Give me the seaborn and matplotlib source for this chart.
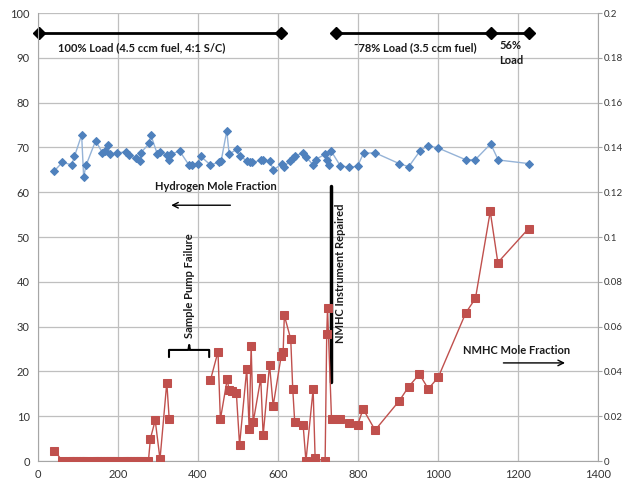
import numpy as np
import pandas as pd
import seaborn as sns
import matplotlib.pyplot as plt

# Hydrogen mole fraction (left axis, %)
h2_x = [41, 61, 84, 91, 109, 114, 120, 144, 161, 167,
        175, 179, 198, 221, 227, 246, 254, 257, 278, 282,
        298, 306, 323, 328, 333, 354, 378, 384, 401, 407,
        431, 453, 458, 472, 478, 497, 505, 522, 529, 536,
        558, 563, 580, 588, 609, 615, 631, 637, 643, 663,
        670, 688, 694, 718, 723, 727, 733, 756, 778, 799,
        814, 843, 903, 927, 956, 975, 1000, 1071, 1094, 1132,
        1151, 1227]
h2_y = [64.8, 66.7, 66.1, 68.0, 72.8, 63.4, 66.0, 71.5, 68.8, 69.3,
        70.6, 68.5, 68.8, 69.0, 68.2, 67.6, 67.0, 68.8, 70.9, 72.8,
        68.6, 69.0, 68.2, 67.2, 68.5, 69.2, 66.0, 66.0, 66.4, 68.0,
        66.1, 66.7, 67.0, 73.7, 68.5, 69.6, 68.1, 67.0, 66.7, 66.7,
        67.1, 67.1, 67.0, 65.0, 66.2, 65.7, 67.0, 67.7, 68.1, 68.8,
        67.9, 66.1, 67.3, 68.5, 67.3, 66.1, 69.2, 65.9, 65.6, 65.8,
        68.7, 68.8, 66.4, 65.7, 69.3, 70.4, 69.9, 67.2, 67.3, 70.8,
        67.2, 66.4]

# NMHC mole fraction (right axis), before and after the sample pump failure
nmhc_x1 = [41, 61, 80, 88, 96, 104, 112, 120, 140, 148,
           156, 164, 172, 180, 188, 196, 215, 223, 231, 239,
           247, 255, 262, 276, 281, 293, 305, 322, 328]
nmhc_y1 = [0.0046, 0, 0, 0, 0, 0, 0, 0, 0, 0,
           0, 0, 0, 0, 0, 0, 0, 0, 0, 0,
           0, 0, 0, 0, 0.0100, 0.0182, 0.0008, 0.0350, 0.0188]
nmhc_x2 = [431, 450, 456, 473, 478, 486, 496, 504, 522, 528,
           533, 538, 557, 563, 579, 588, 608, 613, 616, 632,
           637, 642, 663, 670, 688, 693, 718, 722, 724, 734,
           756, 777, 799, 813, 843, 904, 927, 954, 976, 1001,
           1070, 1094, 1131, 1150, 1227]
nmhc_y2 = [0.0360, 0.0488, 0.0186, 0.0364, 0.0316, 0.0314, 0.0302, 0.0072, 0.0412, 0.0142,
           0.0514, 0.0172, 0.0370, 0.0114, 0.0430, 0.0246, 0.0468, 0.0486, 0.0650, 0.0544,
           0.0322, 0.0172, 0.0160, 0.0000, 0.0320, 0.0012, 0.0000, 0.0566, 0.0682, 0.0188,
           0.0188, 0.0168, 0.0160, 0.0232, 0.0138, 0.0270, 0.0332, 0.0388, 0.0322, 0.0374,
           0.0662, 0.0726, 0.1114, 0.0886, 0.1038]

# load periods (x) drawn at the top
load1_x = [3, 607]
load2_x = [745, 1132, 1228]
load_level = 95.5

right_labels = ['0', '0.02', '0.04', '0.06', '0.08', '0.1',
                '0.12', '0.14', '0.16', '0.18', '0.2']

h2_df = pd.DataFrame({'t': h2_x, 'frac': h2_y})
nmhc_df = pd.concat([
    pd.DataFrame({'t': nmhc_x1, 'frac': nmhc_y1, 'seg': 0}),
    pd.DataFrame({'t': nmhc_x2, 'frac': nmhc_y2, 'seg': 1}),
])

sns.set_style("white")
plt.rcParams['font.family'] = ['Lato', 'DejaVu Sans']

fig, ax = plt.subplots(figsize=(6.24, 4.83), dpi=100)
fig.subplots_adjust(left=0.061, right=0.958, bottom=0.0455, top=0.973)
ax2 = ax.twinx()

sns.lineplot(data=h2_df, x='t', y='frac', sort=False, color='#95B3D7', lw=1.0,
             marker='D', markersize=4.5, markerfacecolor='#4F81BD',
             markeredgecolor='#4F81BD', ax=ax)
sns.lineplot(data=nmhc_df, x='t', y='frac', units='seg', estimator=None, sort=False,
             color='#C0504D', lw=1.0, marker='s', markersize=5.5,
             markerfacecolor='#C0504D', markeredgecolor='#C0504D', ax=ax2)

ax.set_xlim(0, 1400)
ax.set_ylim(0, 100)
ax2.set_ylim(0, 0.2)
ax.set_xticks(np.arange(0, 1401, 200))
ax.set_yticks(np.arange(0, 101, 10))
ax2.set_yticks(np.linspace(0, 0.2, 11))
ax2.set_yticklabels(right_labels)

ax.grid(True, color='#BFBFBF', lw=0.9)
ax.set_axisbelow(True)
for a in (ax, ax2):
    a.set_xlabel('')
    a.set_ylabel('')
    for s in a.spines.values():
        s.set_visible(False)
ax.spines['left'].set_visible(True)
ax.spines['left'].set_color('#A6A6A6')
ax.spines['bottom'].set_visible(True)
ax.spines['bottom'].set_color('#A6A6A6')
ax2.spines['right'].set_visible(True)
ax2.spines['right'].set_color('#A6A6A6')
ax.tick_params(axis='both', labelsize=8, colors='#333333', length=0, pad=6)
ax2.tick_params(axis='y', labelsize=7, colors='#333333', length=3, width=0.8, pad=1.5)
ax2.tick_params(axis='y', color='#A6A6A6')

# load bars
ax.plot(load1_x, [load_level] * len(load1_x), color='black', lw=2, marker='D',
        markersize=6, clip_on=False)
ax.plot(load2_x, [load_level] * len(load2_x), color='black', lw=2, marker='D',
        markersize=6, clip_on=False)
tkw = dict(fontsize=8, fontweight='bold', color='#1a1a1a')
ax.text(50, 92.2, '100% Load (4.5 ccm fuel, 4:1 S/C)', va='center', **tkw)
ax.text(790, 92.2, '˜78% Load (3.5 ccm fuel)', va='center', **tkw)
ax.text(1153, 94.0, '56%\nLoad', va='top', ha='left', linespacing=1.4, **tkw)

ax.text(445, 61.2, 'Hydrogen Mole Fraction', ha='center', va='center', **tkw)
ax.annotate('', xy=(326, 57.1), xytext=(488, 57.1),
            arrowprops=dict(arrowstyle='->', color='black', lw=1))
ax.text(1197, 24.6, 'NMHC Mole Fraction', ha='center', va='center', **tkw)
ax.annotate('', xy=(1325, 21.9), xytext=(1157, 21.9),
            arrowprops=dict(arrowstyle='->', color='black', lw=1))

# sample pump failure bracket
ax.plot([327.5, 327.5, 376, 378, 380, 428, 428],
        [23.2, 24.8, 24.8, 25.9, 24.8, 24.8, 23.2], color='black', lw=1.5)
ax.text(378, 27.5, 'Sample Pump Failure', rotation=90, ha='center', va='bottom', **tkw)

# NMHC instrument repaired
ax.plot([733, 733], [17.6, 61.4], color='black', lw=2.5)
ax.text(757, 42, 'NMHC Instrument Repaired', rotation=90, ha='center', va='center', **tkw)

plt.savefig('out.png', dpi=100)
